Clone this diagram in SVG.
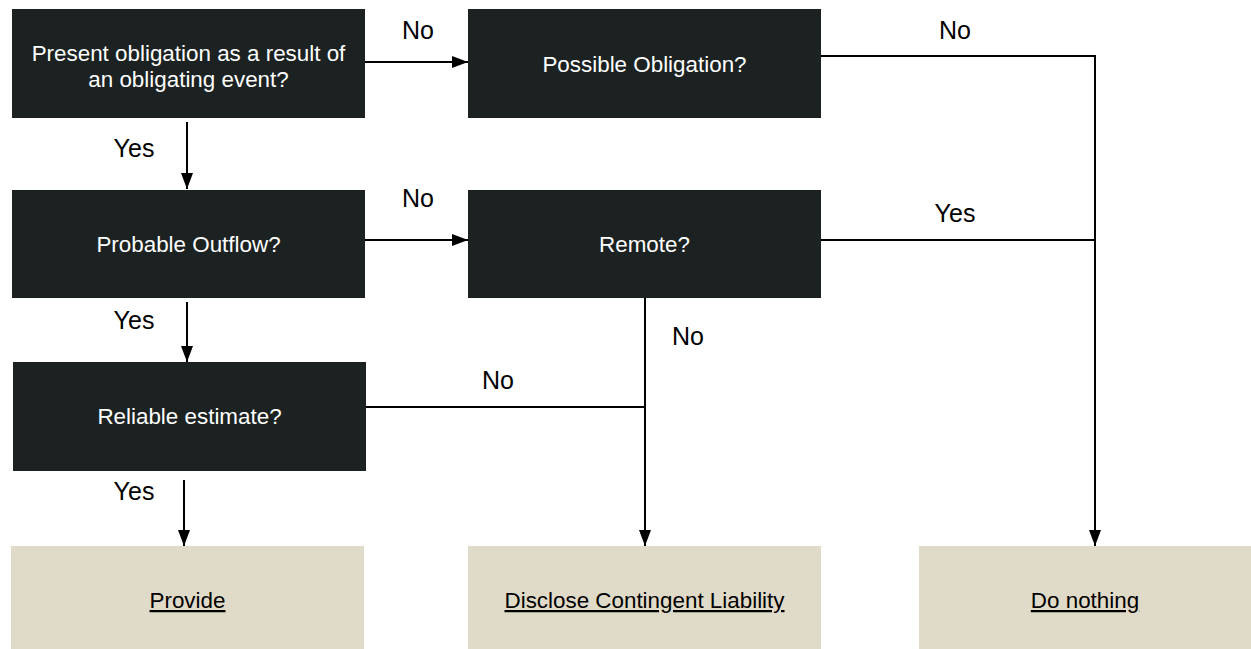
<svg xmlns="http://www.w3.org/2000/svg" width="1251" height="649" viewBox="0 0 1251 649">
<style>
.q{fill:#1c2221}
.r{fill:#e0dbc8}
.qt{fill:#ffffff;font-family:"Liberation Sans",Arial,sans-serif;font-size:22.4px;text-anchor:middle}
.rt{fill:#000000;font-family:"Liberation Sans",Arial,sans-serif;font-size:22.4px;text-anchor:middle;text-decoration:underline}
.lb{fill:#000000;font-family:"Liberation Sans",Arial,sans-serif;font-size:25px;text-anchor:middle}
.c{stroke:#000;stroke-width:2;fill:none}
</style>
<defs>
<marker id="ah" viewBox="0 0 16 12" refX="16" refY="6" markerWidth="16" markerHeight="12" markerUnits="userSpaceOnUse" orient="auto">
<path d="M0,0 L16,6 L0,12 Z" fill="#000"/>
</marker>
</defs>
<rect width="1251" height="649" fill="#ffffff"/>
<g id="connectors">
<line class="c" x1="365" y1="62" x2="468" y2="62" marker-end="url(#ah)"/>
<polyline class="c" points="821,56 1095,56 1095,546" marker-end="url(#ah)"/>
<line class="c" x1="821" y1="240" x2="1095" y2="240"/>
<line class="c" x1="187" y1="122" x2="187" y2="189" marker-end="url(#ah)"/>
<line class="c" x1="365" y1="240" x2="468" y2="240" marker-end="url(#ah)"/>
<line class="c" x1="187" y1="302" x2="187" y2="362" marker-end="url(#ah)"/>
<line class="c" x1="645" y1="298" x2="645" y2="546" marker-end="url(#ah)"/>
<line class="c" x1="366" y1="407" x2="645" y2="407"/>
<line class="c" x1="184" y1="480" x2="184" y2="546" marker-end="url(#ah)"/>
<text class="lb" x="418" y="38.5">No</text>
<text class="lb" x="955" y="38.5">No</text>
<text class="lb" x="134" y="156.5">Yes</text>
<text class="lb" x="418" y="206.5">No</text>
<text class="lb" x="955" y="221.5">Yes</text>
<text class="lb" x="134" y="328.5">Yes</text>
<text class="lb" x="688" y="345">No</text>
<text class="lb" x="498" y="389">No</text>
<text class="lb" x="134" y="500">Yes</text>
</g>
<g id="present">
<rect class="q" x="12" y="9" width="353" height="109"/>
<text class="qt" x="188.5" y="61">Present obligation as a result of</text>
<text class="qt" x="188.5" y="87">an obligating event?</text>
</g>
<g id="possible">
<rect class="q" x="468" y="9" width="353" height="109"/>
<text class="qt" x="644.5" y="72">Possible Obligation?</text>
</g>
<g id="probable">
<rect class="q" x="12" y="190" width="353" height="108"/>
<text class="qt" x="188.5" y="252">Probable Outflow?</text>
</g>
<g id="remote">
<rect class="q" x="468" y="190" width="353" height="108"/>
<text class="qt" x="644.5" y="252">Remote?</text>
</g>
<g id="reliable">
<rect class="q" x="13" y="362" width="353" height="109"/>
<text class="qt" x="189.5" y="424">Reliable estimate?</text>
</g>
<g id="provide">
<rect class="r" x="11" y="546" width="353" height="103"/>
<text class="rt" x="187.5" y="608">Provide</text>
</g>
<g id="disclose">
<rect class="r" x="468" y="546" width="353" height="103"/>
<text class="rt" x="644.5" y="608">Disclose Contingent Liability</text>
</g>
<g id="nothing">
<rect class="r" x="919" y="546" width="332" height="103"/>
<text class="rt" x="1085" y="608">Do nothing</text>
</g>
</svg>
